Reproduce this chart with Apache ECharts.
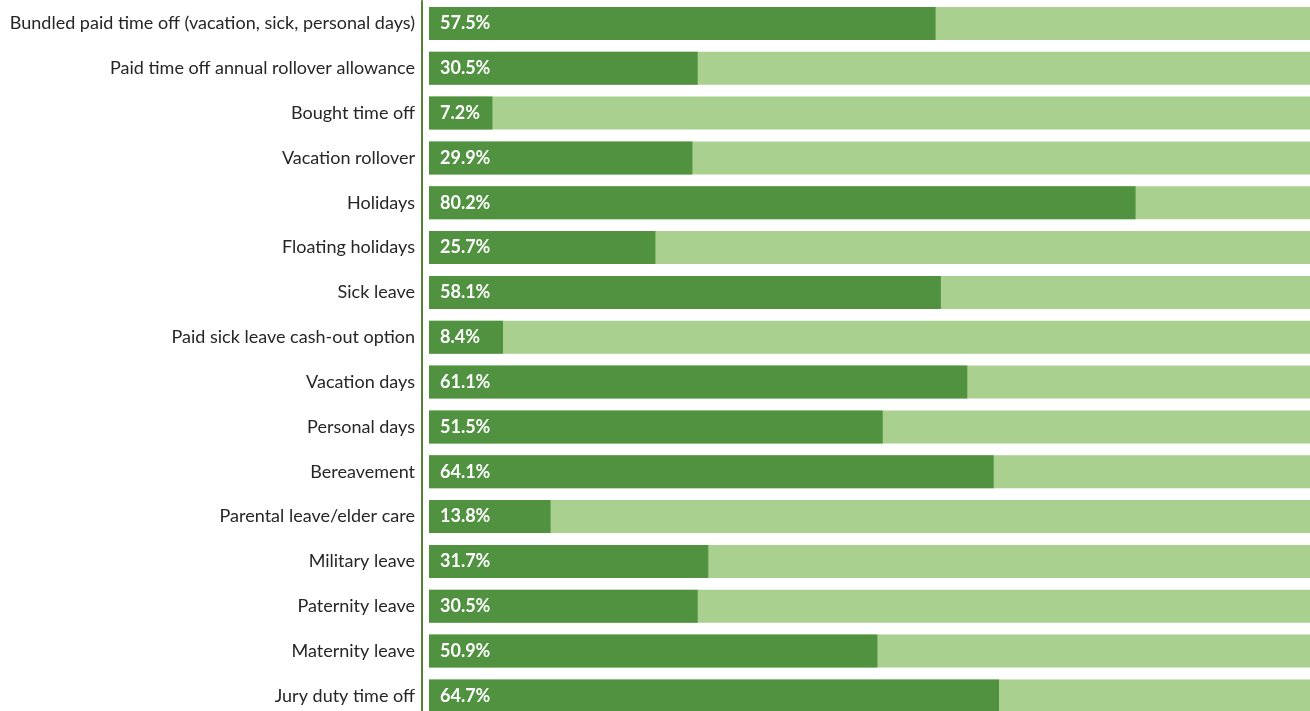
<!DOCTYPE html>
<html>
<head>
<meta charset="utf-8">
<script src="https://cdn.jsdelivr.net/npm/echarts@6/dist/echarts.min.js"></script>
<style>
  html, body { margin: 0; padding: 0; background: #ffffff; }
  #chart { width: 1310px; height: 711px; }
</style>
</head>
<body>
<div id="chart"></div>
<script>
// Share of organisations offering each time-off benefit (%)
const categories = [
  'Bundled paid time off (vacation, sick, personal days)',
  'Paid time off annual rollover allowance',
  'Bought time off',
  'Vacation rollover',
  'Holidays',
  'Floating holidays',
  'Sick leave',
  'Paid sick leave cash-out option',
  'Vacation days',
  'Personal days',
  'Bereavement',
  'Parental leave/elder care',
  'Military leave',
  'Paternity leave',
  'Maternity leave',
  'Jury duty time off'
];
const offered = [57.5, 30.5, 7.2, 29.9, 80.2, 25.7, 58.1, 8.4, 61.1, 51.5, 64.1, 13.8, 31.7, 30.5, 50.9, 64.7];

const chart = echarts.init(document.getElementById('chart'), null, { renderer: 'canvas' });
chart.setOption({
  animation: false,
  grid: {
    left: 429, right: 0, top: 1, height: 717.3,
    containLabel: false, outerBoundsMode: 'none'
  },
  xAxis: {
    type: 'value', min: 0, max: 100, show: false
  },
  yAxis: {
    type: 'category',
    data: categories,
    inverse: true,
    offset: 7,
    axisLine: { show: true, onZero: false, lineStyle: { color: '#548235', width: 2 } },
    axisTick: { show: false },
    axisLabel: {
      color: '#262626',
      fontFamily: 'Lato',
      fontSize: 18,
      margin: 7
    }
  },
  series: [{
    type: 'bar',
    data: offered,
    barWidth: 33,
    showBackground: true,
    backgroundStyle: { color: '#A9D08E' },
    itemStyle: { color: '#509240' },
    label: {
      show: true,
      position: 'insideLeft',
      distance: 11,
      color: '#ffffff',
      fontFamily: 'Lato',
      fontWeight: 'bold',
      fontSize: 18,
      formatter: p => p.value.toFixed(1) + '%'
    }
  }]
});
</script>
</body>
</html>
